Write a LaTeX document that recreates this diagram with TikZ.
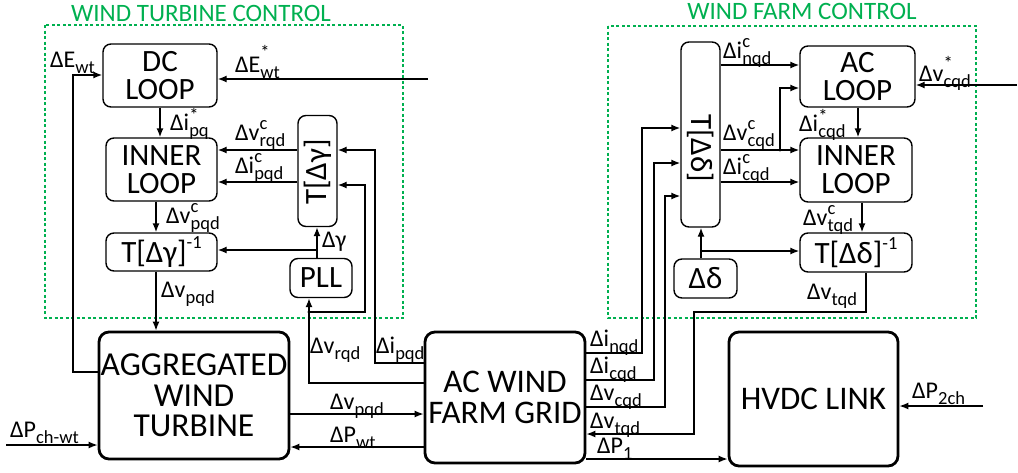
\documentclass[tikz,border=0pt]{standalone}
\usepackage{fontspec}
\setmainfont{Carlito}
\usetikzlibrary{arrows.meta}
\definecolor{grn}{RGB}{0,176,80}
\newcommand\lblfnt{\fontsize{24}{26}\selectfont}
\newcommand\subfnt{\fontsize{18.5}{19}\selectfont}
\newcommand\boxfnt{\fontsize{31}{28}\selectfont}
\newcommand\bigfnt{\fontsize{33.5}{30.5}\selectfont}
\newcommand\ttlfnt{\fontsize{25}{26}\selectfont}
\newcommand\lbr[4]{#1\rlap{\raisebox{#4}{\subfnt #3}}\raisebox{-0.28em}{\subfnt #2}}
\newcommand\lb[3]{\lbr{#1}{#2}{#3}{0.45em}}
\newcommand\inv{\raisebox{0.45em}{\subfnt -1}}
\begin{document}
\begin{tikzpicture}[x=1pt,y=-1pt,
  box/.style={draw, rounded corners=8pt, line width=1.4pt, inner sep=0pt, align=center, font=\boxfnt},
  bigbox/.style={draw, rounded corners=10pt, line width=2.8pt, inner sep=0pt, align=center, font=\bigfnt},
  arr/.style={-{Latex[length=9pt,width=7pt]}, line width=1.4pt},
  lbl/.style={anchor=base west, inner sep=0pt, font=\lblfnt},
  gdash/.style={draw=grn, line width=1.6pt, dash pattern=on 3pt off 2.5pt},
  ttl/.style={text=grn, font=\ttlfnt, inner sep=0pt},
  rtxt/.style={font=\boxfnt, inner sep=0pt}]
\useasboundingbox (0,0) rectangle (1018,472);
% green control areas
\draw[gdash] (45,25) rectangle (403,318);
\draw[gdash] (608,26) rectangle (976,318);
\node[ttl] (t1) at (201,13) {WIND TURBINE CONTROL};
\node[ttl] (t2) at (802,11) {WIND FARM CONTROL};
% left blocks
\node[box, minimum width=114, minimum height=63] (dc) at (160,75.5) {DC\\LOOP};
\node[box, minimum width=111, minimum height=63] (innerL) at (161.5,169.5) {INNER\\LOOP};
\node[box, minimum width=111, minimum height=38] (tinvL) at (161.5,252) {T[Δγ]\inv};
\node[box, minimum width=39, minimum height=111] (tg) at (317.5,171) {};
\node[rtxt, rotate=90] (tgt) at (317.5,172) {T[Δγ]};
\node[box, minimum width=62, minimum height=39] (pll) at (321,278) {PLL};
% bottom blocks
\node[bigbox, minimum width=190, minimum height=127] (agg) at (194,395.5) {AGGREGATED\\WIND\\TURBINE};
\node[bigbox, minimum width=160, minimum height=131, font=\fontsize{33}{31}\selectfont] (grid) at (505,397.5) {AC WIND\\FARM GRID};
\node[bigbox, minimum width=169, minimum height=134, font=\fontsize{33}{31}\selectfont] (hvdc) at (813.5,399) {HVDC LINK};
% right blocks
\node[box, minimum width=39, minimum height=185] (td) at (700.5,134.5) {};
\node[rtxt, rotate=-90] (tdt) at (700.5,148) {T[Δδ]};
\node[box, minimum width=115, minimum height=61] (ac) at (857.5,76.5) {AC\\LOOP};
\node[box, minimum width=112, minimum height=64] (innerR) at (856,170) {INNER\\LOOP};
\node[box, minimum width=112, minimum height=39] (tinvR) at (856,252.5) {T[Δδ]\inv};
\node[box, minimum width=63, minimum height=39] (dd) at (705.5,278.5) {Δδ};
% free ends and junctions
\coordinate (eref) at (428,79);
\coordinate (pch) at (6,445);
\coordinate (p2ch) at (983,406);
\coordinate (vref) at (1017,85);
\coordinate (j1) at (309,312);
\coordinate (j2) at (317,250);
\coordinate (j3) at (780,150);
\coordinate (j4) at (701,251);
% left connectors
\draw[arr] (agg.west |- 0,372) -| (73,75) -- (dc.west |- 0,75);
\draw[arr] (eref) -- (dc.east |- eref);
\draw[arr] (dc.south) -- (dc.south |- innerL.north);
\draw[arr] (tg.west |- 0,150) -- (innerL.east |- 0,150);
\draw[arr] (tg.west |- 0,182) -- (innerL.east |- 0,182);
\draw[arr] (innerL.south -| 156,0) -- (tinvL.north -| 156,0);
\draw[arr] (tinvL.south -| 156,0) -- (agg.north -| 156,0);
\draw[arr] (pll.north -| 317,0) -- (tg.south -| 317,0);
\draw[arr] (j2) -- (tinvL.east |- j2);
\draw[arr] (grid.west |- 0,383) -| (pll.south -| 309,0);
\draw[arr] (j1) -| (365,185) -- (tg.east |- 0,185);
\fill (j1) circle (1.6pt);
\draw[arr] (grid.west |- 0,363) -| (375,150) -- (tg.east |- 0,150);
\draw[arr] (agg.east |- 0,414) -- (grid.west |- 0,414);
\draw[arr] (grid.west |- 0,447) -- (agg.east |- 0,447);
\draw[arr] (pch) -- (agg.west |- pch);
% right connectors
\draw[arr] (grid.east |- 0,353) -| (642,128) -- (td.west |- 0,128);
\draw[arr] (grid.east |- 0,380) -| (654,163) -- (td.west |- 0,163);
\draw[arr] (grid.east |- 0,407) -| (665,196) -- (td.west |- 0,196);
\draw[arr] (tinvR.south -| 866,0) |- (694,312) |- (grid.east |- 0,434);
\draw[arr] (grid.east |- 0,459) -- (hvdc.west |- 0,459);
\draw[arr] (p2ch) -- (hvdc.east |- p2ch);
\draw[arr] (td.east |- 0,65) -- (ac.west |- 0,65);
\draw[arr] (td.east |- j3) -- (innerR.west |- j3);
\draw[arr] (j3) |- (ac.west |- 0,88);
\fill (j3) circle (1.6pt);
\draw[arr] (td.east |- 0,182) -- (innerR.west |- 0,182);
\draw[arr] (vref) -- (ac.east |- vref);
\draw[arr] (ac.south -| 858,0) -- (innerR.north -| 858,0);
\draw[arr] (innerR.south -| 862,0) -- (tinvR.north -| 862,0);
\draw[arr] (dd.north -| 701,0) -- (td.south -| 701,0);
\draw[arr] (j4) -- (tinvR.west |- j4);
% labels left
\node[lbl] (l1) at (50,67) {\lb{ΔE}{wt}{}};
\node[lbl] (l2) at (235,72) {\lbr{ΔE}{wt}{*}{0.55em}};
\node[lbl] (l3) at (170,130) {\lbr{Δi}{pq}{*}{0.36em}};
\node[lbl] (l4) at (235,140) {\lb{Δv}{rqd}{c}};
\node[lbl] (l5) at (235,173) {\lb{Δi}{pqd}{c}};
\node[lbl] (l6) at (166,223) {\lb{Δv}{pqd}{c}};
\node[lbl] (l7) at (161,297) {\lb{Δv}{pqd}{}};
\node[lbl] (l8) at (322,247) {Δγ};
\node[lbl] (l9) at (310,353) {\lb{Δv}{rqd}{}};
\node[lbl] (l10) at (376,353) {\lb{Δi}{pqd}{}};
\node[lbl] (l11) at (330,409) {\lb{Δv}{pqd}{}};
\node[lbl] (l12) at (330,442) {\lb{ΔP}{wt}{}};
\node[lbl] (l13) at (10,437) {\lb{ΔP}{ch-wt}{}};
% labels right
\node[lbl] (r1) at (590,346) {\lb{Δi}{nqd}{}};
\node[lbl] (r2) at (590,373) {\lb{Δi}{cqd}{}};
\node[lbl] (r3) at (590,400) {\lb{Δv}{cqd}{}};
\node[lbl] (r4) at (590,428) {\lb{Δv}{tqd}{}};
\node[lbl] (r5) at (597,453) {\lb{ΔP}{1}{}};
\node[lbl] (r6) at (912,398) {\lb{ΔP}{2ch}{}};
\node[lbl] (r7) at (723,58) {\lb{Δi}{nqd}{c}};
\node[lbl] (r8) at (723,140) {\lb{Δv}{cqd}{c}};
\node[lbl] (r9) at (723,174) {\lb{Δi}{cqd}{c}};
\node[lbl] (r10) at (799,131) {\lbr{Δi}{cqd}{*}{0.36em}};
\node[lbl] (r11) at (919,81) {\lbr{Δv}{cqd}{*}{0.5em}};
\node[lbl] (r12) at (803,225) {\lb{Δv}{tqd}{c}};
\node[lbl] (r13) at (807,299) {\lb{Δv}{tqd}{}};
\end{tikzpicture}
\end{document}
